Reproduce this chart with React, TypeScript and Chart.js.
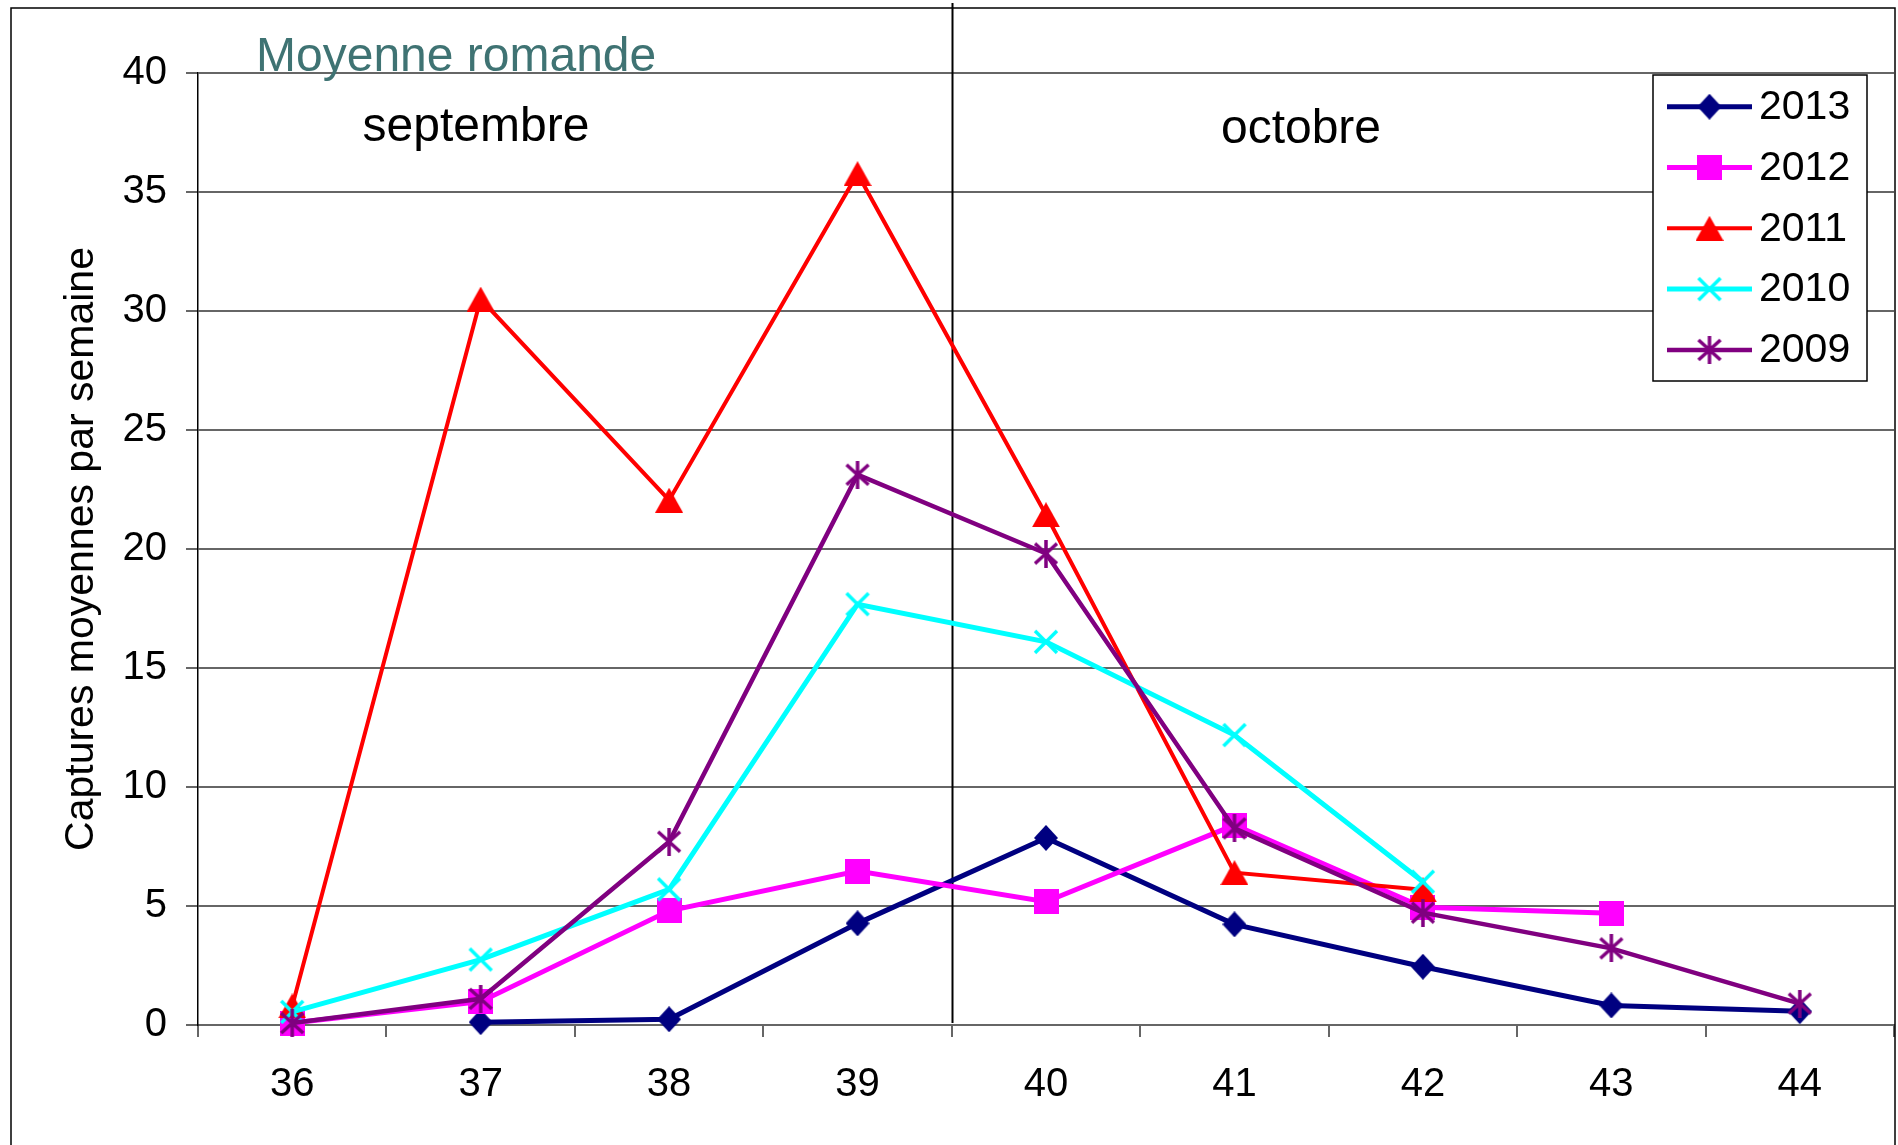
import { useEffect, useRef } from 'react';
import { Chart, registerables } from 'chart.js';

Chart.register(...registerables);

const weeks = ['36', '37', '38', '39', '40', '41', '42', '43', '44'];
const seriesLabels = ['2013', '2012', '2011', '2010', '2009'];
const values2013 = [null, 0.12, 0.24, 4.27, 7.86, 4.23, 2.45, 0.82, 0.58];
const values2012 = [0.08, 0.98, 4.8, 6.47, 5.18, 8.4, 4.95, 4.7, null];
const values2011 = [0.8, 30.5, 22.05, 35.77, 21.44, 6.4, 5.68, null, null];
const values2010 = [0.55, 2.75, 5.7, 17.68, 16.1, 12.18, 6.02, null, null];
const values2009 = [0.08, 1.1, 7.7, 23.12, 19.81, 8.26, 4.72, 3.22, 0.9];
const seriesColors = ['#000080', '#FF00FF', '#FF0000', '#00FFFF', '#800080'];
const seriesWidths = [5, 5, 4, 5, 4.5];
const markerKinds = ['diamond', 'square', 'triangle', 'x', 'star'];
const yMin = 0;
const yMax = 40;
const yStep = 5;
const titleText = 'Moyenne romande';
const yAxisTitle = 'Captures moyennes par semaine';
const monthLabels = ['septembre', 'octobre'];

const FONT = '"Liberation Sans", Arial, Helvetica, sans-serif';

function makeMarker(kind: string, color: string): HTMLCanvasElement {
  const c = document.createElement('canvas');
  let w = 25;
  let h = 25;
  if (kind === 'diamond') { w = 24; h = 26; }
  if (kind === 'square') { w = 25; h = 25; }
  if (kind === 'triangle') { w = 28; h = 25; }
  if (kind === 'x') { w = 26; h = 26; }
  if (kind === 'star') { w = 26; h = 28; }
  c.width = w;
  c.height = h;
  const g = c.getContext('2d')!;
  g.fillStyle = color;
  g.strokeStyle = color;
  g.lineWidth = 3.5;
  g.lineCap = 'butt';
  if (kind === 'diamond') {
    g.beginPath();
    g.moveTo(w / 2, 0);
    g.lineTo(w, h / 2);
    g.lineTo(w / 2, h);
    g.lineTo(0, h / 2);
    g.closePath();
    g.fill();
  } else if (kind === 'square') {
    g.fillRect(0, 0, w, h);
  } else if (kind === 'triangle') {
    g.beginPath();
    g.moveTo(w / 2, 0);
    g.lineTo(w, h);
    g.lineTo(0, h);
    g.closePath();
    g.fill();
  } else if (kind === 'x') {
    g.beginPath();
    g.moveTo(2, 2);
    g.lineTo(w - 2, h - 2);
    g.moveTo(w - 2, 2);
    g.lineTo(2, h - 2);
    g.stroke();
  } else if (kind === 'star') {
    g.beginPath();
    g.moveTo(w / 2, 0);
    g.lineTo(w / 2, h);
    g.moveTo(2, 4);
    g.lineTo(w - 2, h - 4);
    g.moveTo(w - 2, 4);
    g.lineTo(2, h - 4);
    g.stroke();
  }
  return c;
}

export default function App() {
  const canvasRef = useRef<HTMLCanvasElement | null>(null);

  useEffect(() => {
    document.body.style.margin = '0';
    document.documentElement.style.overflow = 'hidden';
    const canvas = canvasRef.current;
    if (!canvas) return;

    const allValues = [values2013, values2012, values2011, values2010, values2009];
    const markers = markerKinds.map((k, i) => makeMarker(k, seriesColors[i]));

    const datasets = seriesLabels.map((label, i) => ({
      label,
      data: allValues[i],
      borderColor: seriesColors[i],
      backgroundColor: seriesColors[i],
      borderWidth: seriesWidths[i],
      tension: 0,
      pointStyle: markers[i],
      pointRadius: 10,
      pointHoverRadius: 10,
      clip: false as const,
      order: seriesLabels.length - 1 - i,
    }));

    const decor = {
      id: 'decor',
      beforeDraw(chart: any) {
        const ctx = chart.ctx;
        ctx.save();
        ctx.fillStyle = '#ffffff';
        ctx.fillRect(0, 0, chart.width, chart.height);
        ctx.restore();
      },
      beforeDatasetsDraw(chart: any) {
        const ctx = chart.ctx;
        const xs = chart.scales.x;
        const area = chart.chartArea;
        const xd = (xs.getPixelForValue(3) + xs.getPixelForValue(4)) / 2;
        ctx.save();
        ctx.strokeStyle = '#000000';
        ctx.lineWidth = 2;
        ctx.beginPath();
        ctx.moveTo(Math.round(xd) + 0.5, 3);
        ctx.lineTo(Math.round(xd) + 0.5, area.bottom - 2);
        ctx.stroke();
        ctx.restore();
      },
      afterDraw(chart: any) {
        const ctx = chart.ctx;
        ctx.save();
        // outer border of the chart object
        ctx.strokeStyle = '#000000';
        ctx.lineWidth = 1.5;
        ctx.strokeRect(11, 8, 1884, 1200);

        // title
        ctx.fillStyle = '#3F7373';
        ctx.font = `48px ${FONT}`;
        ctx.textAlign = 'left';
        ctx.textBaseline = 'alphabetic';
        ctx.fillText(titleText, 256, 70.5);

        // month labels
        ctx.fillStyle = '#000000';
        ctx.font = `48px ${FONT}`;
        ctx.textAlign = 'center';
        ctx.fillText(monthLabels[0], 476, 141);
        ctx.fillText(monthLabels[1], 1301, 143);

        // legend
        const lx = 1653;
        const ly = 75;
        const lw = 214;
        const lh = 306;
        ctx.fillStyle = '#ffffff';
        ctx.fillRect(lx, ly, lw, lh);
        ctx.strokeStyle = '#000000';
        ctx.lineWidth = 1.5;
        ctx.strokeRect(lx, ly, lw, lh);
        ctx.font = `41px ${FONT}`;
        ctx.textAlign = 'left';
        ctx.textBaseline = 'middle';
        chart.data.datasets.forEach((ds: any, i: number) => {
          const cy = ly + 31.7 + i * 60.8;
          ctx.strokeStyle = ds.borderColor;
          ctx.lineWidth = ds.borderWidth;
          ctx.beginPath();
          ctx.moveTo(lx + 14, cy);
          ctx.lineTo(lx + 99, cy);
          ctx.stroke();
          const img = ds.pointStyle as HTMLCanvasElement;
          ctx.drawImage(img, lx + 56.5 - img.width / 2, cy - img.height / 2);
          ctx.fillStyle = '#000000';
          ctx.fillText(ds.label, lx + 106, cy + 1);
        });
        ctx.restore();
      },
    };

    const chart = new Chart(canvas, {
      type: 'line',
      data: { labels: weeks, datasets },
      options: {
        animation: false,
        responsive: false,
        devicePixelRatio: 1,
        layout: { autoPadding: false, padding: { top: 73, right: 4, left: 0, bottom: 0 } },
        plugins: {
          legend: { display: false },
          title: { display: false },
          tooltip: { enabled: false },
        },
        scales: {
          x: {
            type: 'category',
            offset: true,
            grid: {
              offset: true,
              drawOnChartArea: false,
              drawTicks: true,
              tickLength: 12,
              color: '#666666',
              lineWidth: 2,
            },
            border: { display: true, color: '#666666', width: 2 },
            ticks: {
              color: '#000000',
              font: { family: FONT, size: 40 },
              padding: 24,
              maxRotation: 0,
              autoSkip: false,
            },
            afterFit(scale: any) {
              scale.height = 120;
              scale.paddingLeft = 0;
              scale.paddingRight = 0;
            },
          },
          y: {
            min: yMin,
            max: yMax,
            grid: {
              color: '#666666',
              lineWidth: 2,
              drawTicks: true,
              tickLength: 12,
            },
            border: { display: true, color: '#000000', width: 1.5 },
            ticks: {
              stepSize: yStep,
              color: '#000000',
              font: { family: FONT, size: 40 },
              padding: 19,
            },
            title: {
              display: true,
              text: yAxisTitle,
              color: '#000000',
              font: { family: FONT, size: 41 },
              padding: { top: 57, bottom: 0 },
            },
            afterFit(scale: any) {
              scale.width = 198;
              scale.paddingTop = 0;
              scale.paddingBottom = 0;
            },
          },
        },
      },
      plugins: [decor],
    });

    return () => chart.destroy();
  }, []);

  return (
    <div style={{ position: 'fixed', left: 0, top: 0, width: 1898, height: 1145, overflow: 'hidden' }}>
      <canvas
        ref={canvasRef}
        width={1898}
        height={1145}
        style={{ display: 'block', width: 1898, height: 1145 }}
      />
    </div>
  );
}
